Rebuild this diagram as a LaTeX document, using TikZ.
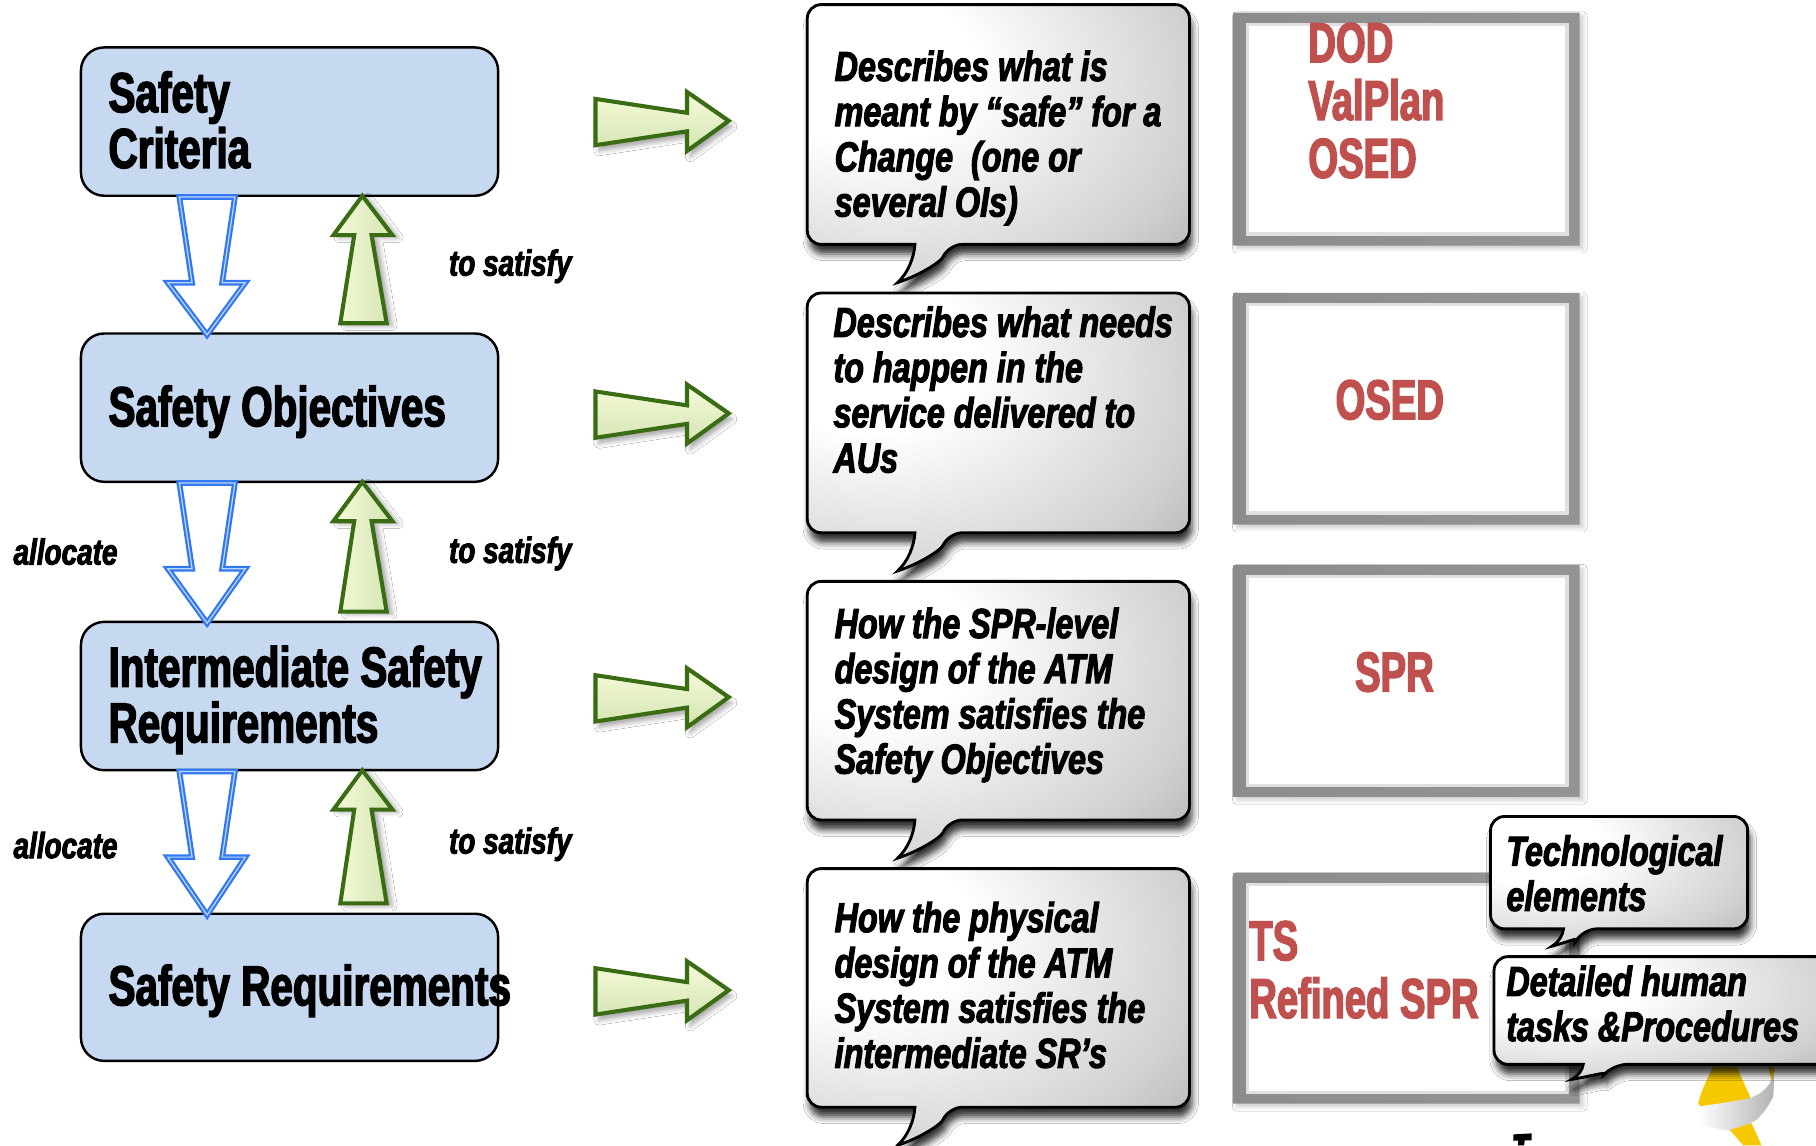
\documentclass[tikz,border=0pt]{standalone}
\usepackage{fontspec}
\setmainfont{Liberation Sans}
% condensed heavy faces
\newfontfamily\heavy{Liberation Sans}[FakeStretch=0.72, FakeBold=2.5]
\newfontfamily\heavyit{Liberation Sans}[FakeStretch=0.77, FakeBold=2.5]
\newfontfamily\heavyred{Liberation Sans}[FakeStretch=0.68, FakeBold=2.5]
\usetikzlibrary{calc,shadows.blur}

\definecolor{boxblue}{RGB}{198,217,240}
\definecolor{arrblue}{RGB}{50,120,240}
\definecolor{arrblueglow}{RGB}{190,215,250}
\definecolor{arrgreen}{RGB}{58,108,20}
\definecolor{greenlight}{RGB}{246,251,218}
\definecolor{greendark}{RGB}{212,228,178}
\definecolor{redtxt}{RGB}{192,80,77}
\definecolor{ribbonyellow}{RGB}{245,200,0}

\pgfdeclareradialshading{bubbleshade}{\pgfpoint{-20bp}{16bp}}{%
  color(0bp)=(white); color(14bp)=(white); color(38bp)=(black!18);
  color(58bp)=(black!40); color(75bp)=(black!52); color(100bp)=(black!60)}

% speech bubble: x1 y1 x2 y2, tail base left/right x, tail tip x y
\newcommand\speechpath[8]{%
  \shade[bubble] (#1,{(#2+#4)/2}) [rounded corners=0.12cm] -- (#1,#2) -- (#3,#2) -- (#3,#4) -- (#6,#4) [sharp corners]
   .. controls ({#6-0.15*(#6-#7)},{#4+0.45*(#8-#4)}) and ({#7+0.45*(#6-#7)},{#8-0.2*(#8-#4)}) .. (#7,#8)
   .. controls ({#7+0.6*(#5-#7)},{#8-0.25*(#8-#4)}) and ({#5-0.05*(#5-#7)},{#4+0.35*(#8-#4)}) .. (#5,#4)
   [rounded corners=0.12cm] -- (#1,#4) -- cycle;}

% grey picture frame: outer x1 y1 x2 y2
\newcommand\greyframe[4]{%
  \shade[frame] (#1,#2) rectangle (#3,#4) ({#1+11},{#2+9}) rectangle ({#3-10},{#4-9});
  \fill[white] ({#1+11},{#2+9}) rectangle ({#3-10},{#4-9});
  \draw[black!12, line width=0.8pt] ({#1+12},{#2+10}) rectangle ({#3-11},{#4-10});}

\tikzset{
  lbox/.style={draw=black, line width=0.6pt, fill=boxblue, rounded corners=0.2cm,
    minimum width=3.6cm, minimum height=1.28cm, inner sep=0pt},
  boxtext/.style={font=\heavy\bfseries\fontsize{13.8pt}{13.7pt}\selectfont, align=left,
    inner sep=0pt, anchor=base west},
  bubtext/.style={font=\heavyit\bfseries\itshape\fontsize{10.3pt}{11.1pt}\selectfont, align=left,
    inner sep=0pt, anchor=base west},
  lbl/.style={font=\heavyit\bfseries\itshape\fontsize{8.9pt}{10pt}\selectfont, inner sep=0pt,
    anchor=base west},
  redtext/.style={font=\heavyred\bfseries\fontsize{13.8pt}{14.2pt}\selectfont, text=redtxt,
    align=left, inner sep=0pt},
  bubble/.style={shading=bubbleshade, draw=black, line width=0.7pt,
    blur shadow={shadow xshift=0.6pt, shadow yshift=-2.4pt, shadow blur radius=1.6pt, shadow opacity=80}},
  frame/.style={even odd rule, left color=black!45, middle color=black!60, right color=black!42,
    blur shadow={shadow xshift=0.8pt, shadow yshift=-0.8pt, shadow blur radius=1pt, shadow opacity=20}},
  downarr/.style={draw=arrblue, line width=0.55pt, double=arrblueglow, double distance=0.3pt,
    fill=white, line join=miter},
  uparr/.style={draw=arrgreen, line width=1pt, line join=miter, left color=greenlight, right color=greendark,
    blur shadow={shadow xshift=1.4pt, shadow yshift=-0.6pt, shadow blur radius=1.2pt, shadow opacity=35}},
  rightarr/.style={draw=arrgreen, line width=1pt, line join=miter, top color=greenlight, bottom color=greendark,
    blur shadow={shadow xshift=0.8pt, shadow yshift=-1.4pt, shadow blur radius=1.2pt, shadow opacity=35}},
}

\begin{document}
\begin{tikzpicture}[x=0.01cm, y=-0.01cm]
\useasboundingbox (0,0) rectangle (1568,989);
\clip (0,0) rectangle (1568,989);
\fill[white] (0,0) rectangle (1568,989);

% ---- safety levels ----
\node[lbox] (b1) at (250,105) {};
\node[lbox] (b2) at (250,352) {};
\node[lbox] (b3) at (250,601) {};
\node[lbox, minimum height=1.27cm] (b4) at (250,852.5) {};

% multi-line texts are placed by the baseline of their last line
\node[boxtext] (t1) at (93,145) {Safety\\Criteria};
\node[boxtext] (t2) at (93,368) {Safety Objectives};
\node[boxtext] (t3) at (93,641) {Intermediate Safety\\Requirements};
\node[boxtext] (t4) at (93,868) {Safety Requirements};

% allocation (down) and satisfaction (up) arrows between levels
\foreach \a/\b/\L in {b1/b2/119, b2/b3/121, b3/b4/124}{
  \draw[downarr, shift={(\a.south west)}]
    (86,0) -- (134,0) -- (123,74) -- (143,74) -- (110,\L) -- (76,74) -- (97,74) -- cycle;
  \draw[uparr, shift={(\a.south west)}]
    (225,{\L-10}) -- (237,33) -- (219,33) -- (244,-1) -- (270,33) -- (252,33) -- (265,{\L-10}) -- cycle;
}

\node[lbl] (s1) at (387,238) {to satisfy};
\node[lbl] (s2) at (387,486) {to satisfy};
\node[lbl] (s3) at (387,737) {to satisfy};
\node[lbl] (al2) at (11,487.5) {allocate};
\node[lbl] (al3) at (11,741) {allocate};

% arrows towards the descriptions
\foreach \a/\dy in {b1/-0.6, b2/5, b3/1, b4/2.5}{
  \draw[rightarr, shift={(\a.east)}, yshift=-\dy*0.01cm]
    (83,-19) -- (162,-7) -- (162,-25) -- (198,0) -- (162,26) -- (162,9) -- (83,21) -- cycle;
}

% ---- description bubbles ----
\speechpath{697}{4}{1027}{211}{790}{819}{775}{244}
\speechpath{697}{253}{1027}{460}{790}{819}{775}{493}
\speechpath{697}{502}{1027}{708}{790}{819}{775}{741}
\speechpath{697}{750}{1027}{956}{790}{819}{775}{989}

\node[bubtext] (q1) at (720,187) {Describes what is\\meant by “safe” for a\\Change\ \ (one or\\several OIs)};
\node[bubtext] (q2) at (719,408) {Describes what needs\\to happen in the\\service delivered to\\AUs};
\node[bubtext] (q3) at (720,668) {How the SPR-level\\design of the ATM\\System satisfies the\\Safety Objectives};
\node[bubtext] (q4) at (720,922) {How the physical\\design of the ATM\\System satisfies the\\intermediate SR’s};

% ---- documents ----
\greyframe{1065}{11}{1364}{212}
\greyframe{1065}{253}{1364}{453}
\greyframe{1065}{488}{1364}{688}
\greyframe{1065}{754}{1364}{953}

\node[redtext, anchor=base west] (d1) at (1129,153.5) {DOD\\ValPlan\\OSED};
\node[redtext, anchor=base] (d2) at (1200,362) {OSED};
\node[redtext, anchor=base] (d3) at (1204,597) {SPR};
\node[redtext, anchor=base west] (d4) at (1078,879) {TS\\Refined SPR};

% logo fragment in the corner
\fill[ribbonyellow] (1479.3,921) -- (1499.4,921) -- (1512.4,949.8) -- (1470.6,958.4)
  .. controls (1468,956) .. (1466.3,952.6) .. controls (1470,940) .. cycle;
\shade[left color=white, right color=black!30] (1466.3,955.5) .. controls (1490,952) .. (1510.9,948.3)
  .. controls (1522,943) .. (1528.2,935.4) -- (1532.5,923.9) -- (1531.1,946.9)
  .. controls (1525,958) .. (1516.7,967) .. controls (1506,973) .. (1496.5,977.1)
  -- (1475,972.8) .. controls (1468,969) .. (1466.3,964.2) -- cycle;
\fill[ribbonyellow] (1493.7,975.7) -- (1512.4,969.9) -- (1521,989) -- (1505.2,989) -- cycle;
\fill[ribbonyellow] (1526.8,921) -- (1532.5,921) -- (1529.6,933.9) -- cycle;
\fill[black] (1306.6,979.5) -- (1322.4,978.6) -- (1322.4,984.6) -- (1316.5,984.6)
  -- (1316,989) -- (1310.5,989) -- (1311,984.8) -- (1306.6,985) -- cycle;

% ---- detail bubbles ----
\speechpath{1287}{705}{1509}{802}{1350}{1367}{1340}{817}
\speechpath{1290}{826}{1585}{919}{1367}{1393}{1357}{932}

\node[bubtext] (e1) at (1300,786.5) {Technological\\elements};
\node[bubtext] (e2) at (1300,899) {Detailed human\\tasks \&Procedures};
\end{tikzpicture}
\end{document}
